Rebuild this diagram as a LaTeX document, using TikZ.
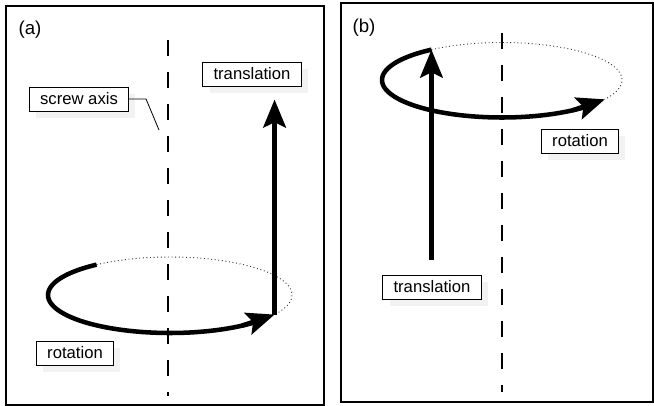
\documentclass[tikz,border=0pt]{standalone}
\usepackage{fontspec}
\setmainfont{Liberation Sans}
\usetikzlibrary{positioning,arrows.meta,calc,shadows}
\tikzset{
  panel/.style={line width=0.9pt},
  scraxis/.style={dash pattern=on 12pt off 12pt,line width=0.9pt},
  lblbox/.style={draw,line width=0.7pt,fill=white,font=\fontsize{12.5}{14}\selectfont,
    inner xsep=8pt,inner ysep=2pt,minimum height=18pt,
    drop shadow={fill=black!10,shadow xshift=5pt,shadow yshift=-5pt}},
  panlbl/.style={font=\fontsize{14}{16}\selectfont,inner sep=0pt},
  thk/.style={line width=3.4pt},
  thkarr/.style={line width=3.4pt,-{Stealth[length=21pt,width=17pt,inset=4pt]}},
  dotell/.style={dotted,line width=0.7pt,black!80},
  leader/.style={line width=0.6pt},
}
\begin{document}
\begin{tikzpicture}[x=0.75pt,y=-0.75pt]
  \useasboundingbox (0,0) rectangle (654,406);
  % the two panels
  \draw[panel] (6,6) rectangle (324,405);
  \draw[panel] (341,3) rectangle (653,402);
  \node[panlbl] (laba) at (30,30) {(a)};
  \node[panlbl] (labb) at (364,28) {(b)};

  % (a): rotation, then translation
  \draw[scraxis] (168,40) -- (168,396);
  \draw[dotell] plot[domain=233:391,samples=90] ({170+122*cos(\x)},{295+38*sin(\x)});
  \draw[thk] plot[domain=45:233,samples=90] ({170+122*cos(\x)},{295+38*sin(\x)});
  \coordinate (rbacka) at ({170+122*cos(54)},{295+38*sin(54)});
  \coordinate (rtipa) at ({170+122*cos(31)},{295+38*sin(31)});
  \coordinate (ttipa) at ($(rtipa)+(0,-215)$);
  \draw[thkarr] (rbacka) -- (rtipa);
  \draw[thkarr] (rtipa) -- (ttipa);
  \node[lblbox] (transa) at (252,74) {translation};
  \node[lblbox] (screw) at (79,99) {screw axis};
  \node[lblbox] (rota) at (75,353) {rotation};
  \coordinate (axpt) at (159,130);
  \draw[leader] (screw.east) -- ++(17,0) -- (axpt);

  % (b): translation, then rotation
  \draw[scraxis] (502,33) -- (502,392);
  \draw[dotell] plot[domain=234:391,samples=90] ({502+120*cos(\x)},{80+37.5*sin(\x)});
  \draw[thk] plot[domain=45:234,samples=90] ({502+120*cos(\x)},{80+37.5*sin(\x)});
  \coordinate (rbackb) at ({502+120*cos(54)},{80+37.5*sin(54)});
  \coordinate (rtipb) at ({502+120*cos(31)},{80+37.5*sin(31)});
  \coordinate (ttipb) at ({502+120*cos(234)},{80+37.5*sin(234)});
  \coordinate (tbaseb) at ($(ttipb)+(0,210)$);
  \draw[thkarr] (rbackb) -- (rtipb);
  \draw[thkarr] (tbaseb) -- (ttipb);
  \node[lblbox] (rotb) at (580,141) {rotation};
  \node[lblbox] (transb) at (432,287) {translation};
\end{tikzpicture}
\end{document}
